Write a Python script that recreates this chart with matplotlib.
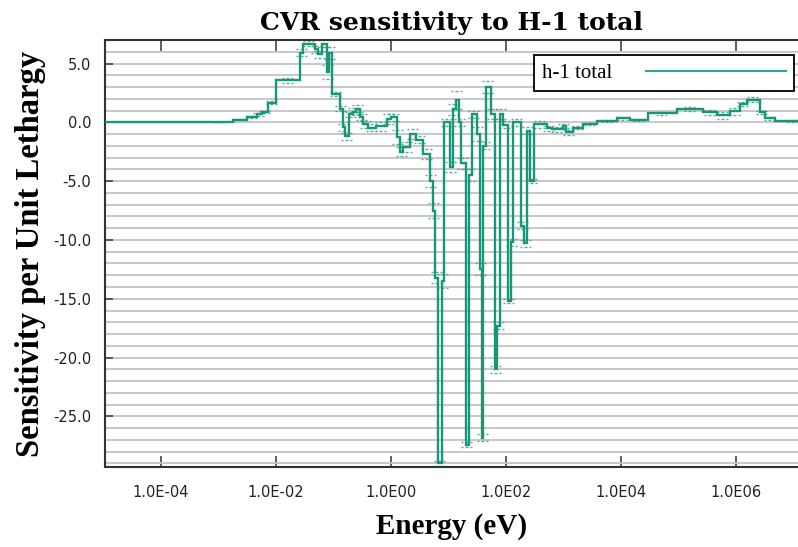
import numpy as np
import matplotlib
matplotlib.use("Agg")
import matplotlib.pyplot as plt
from matplotlib.lines import Line2D
from matplotlib.path import Path
from matplotlib.ticker import FixedLocator, MultipleLocator, FuncFormatter

# group boundaries (eV) and sensitivity per unit lethargy for each group
energy_edges = [
    1.0e-5, 5.44e-4, 1.81e-3, 3.09e-3, 4.61e-3, 5.64e-3, 7.35e-3, 1.00e-2,
    2.61e-2, 2.99e-2, 4.76e-2, 5.45e-2, 6.24e-2, 7.62e-2, 8.36e-2, 9.31e-2,
    0.130, 0.145, 0.158, 0.188, 0.218, 0.246, 0.289, 0.330, 0.398, 0.548,
    0.841, 1.00, 1.26, 1.44, 1.64, 2.14, 2.72, 3.65, 4.76, 5.37, 5.94, 6.56,
    7.71, 8.36, 10.6, 12.0, 13.5, 15.2, 16.5, 20.1, 22.7, 25.6, 31.3, 35.3,
    38.3, 40.6, 44.9, 54.8, 64.4, 71.1, 78.7, 88.7, 108, 122, 132, 182, 210,
    232, 261, 307, 516, 631, 979, 1.10e3, 1.46e3, 2.18e3, 3.83e3, 8.51e3,
    1.44e4, 2.95e4, 9.42e4, 2.67e5, 4.68e5, 7.87e5, 1.17e6, 1.55e6, 2.61e6,
    3.19e6, 4.76e6, 2.0e7,
]
sensitivity = [
    0.0, 0.05, 0.22, 0.45, 0.68, 0.88, 1.67, 3.57, 5.9, 6.7, 6.2, 5.8, 6.7,
    4.3, 5.9, 2.4, 1.16, -0.4, -1.17, 0.68, 0.9, 1.16, 0.45, -0.17, -0.46,
    -0.35, 0.3, 0.45, -1.25, -2.5, -2.1, -1.0, -1.5, -2.7, -5.0, -7.5, -13.2,
    -29.0, -13.5, 0.0, -3.8, 1.1, 1.9, 0.0, -3.5, -27.4, -4.5, 0.7, -1.0,
    -12.5, -26.8, -2.0, 3.0, 0.7, -21.0, -17.3, 0.7, -0.2, -15.2, -10.2, 0.0,
    -8.8, -10.3, -0.7, -5.0, -0.15, -0.5, -0.6, -0.3, -0.85, -0.45, -0.14,
    0.14, 0.33, 0.2, 0.76, 1.13, 0.85, 0.6, 0.96, 1.56, 1.92, 0.85, 0.33, 0.14,
]
uncertainty = [
    0.0, 0.02, 0.05, 0.08, 0.1, 0.1, 0.15, 0.2, 0.3, 0.25, 0.3, 0.3, 0.3,
    0.6, 0.5, 0.2, 0.2, 0.3, 0.3, 0.2, 0.3, 0.3, 0.25, 0.3, 0.3, 0.4, 0.4,
    0.3, 0.6, 0.4, 0.4, 0.4, 0.3, 0.4, 0.5, 0.6, 0.5, 0.2, 0.6, 0.3, 0.4,
    0.5, 0.8, 0.3, 0.5, 0.2, 0.5, 0.3, 0.6, 0.5, 0.3, 0.3, 0.5, 0.4, 0.3,
    0.3, 0.4, 0.3, 0.2, 0.3, 0.3, 0.3, 0.3, 0.3, 0.2, 0.3, 0.2, 0.2, 0.2,
    0.2, 0.1, 0.1, 0.1, 0.1, 0.1, 0.1, 0.15, 0.2, 0.3, 0.3, 0.2, 0.2, 0.15,
    0.1, 0.1,
]
x_ticks = [1e-4, 1e-2, 1e0, 1e2, 1e4, 1e6]

edges = np.array(energy_edges)
vals = np.array(sensitivity)
errs = np.array(uncertainty)

line_color = "#18967a"

fig = plt.figure(figsize=(7.98, 5.47), dpi=100)
ax = fig.add_axes([0.1316, 0.1463, 0.8684, 0.7806])

ax.set_xscale("log")
ax.set_xlim(1.07e-5, 1.2e7)
ax.set_ylim(-29.3, 7.0)

# horizontal grid every 1.0
ax.yaxis.set_major_locator(MultipleLocator(5))
ax.yaxis.set_minor_locator(MultipleLocator(1))
ax.grid(axis="y", which="both", color="#c4c4c4", lw=1.3, zorder=0)
ax.set_axisbelow(True)

ax.stairs(vals, edges, color=line_color, lw=1.7, baseline=None, zorder=3)

# dotted uncertainty marks
dots = Path([(-1, 0), (-0.6, 0), (-0.3, 0), (0.1, 0), (0.4, 0), (0.8, 0)],
            [Path.MOVETO, Path.LINETO, Path.MOVETO, Path.LINETO,
             Path.MOVETO, Path.LINETO])
centers = np.sqrt(edges[:-1] * edges[1:])
mask = errs > 0
for sign in (1, -1):
    ax.plot(centers[mask], vals[mask] + sign * errs[mask], ls="none",
            marker=dots, ms=9, mew=1.0, mec="#3e9c84", alpha=0.85, zorder=2)

ax.xaxis.set_major_locator(FixedLocator(x_ticks))
ax.xaxis.set_minor_locator(FixedLocator([]))
ax.xaxis.set_major_formatter(FuncFormatter(
    lambda v, p: "1.0E%+03d" % round(np.log10(v)) if v < 1 else "1.0E%02d" % round(np.log10(v))))
ax.yaxis.set_major_formatter(FuncFormatter(lambda v, p: "%.1f" % v))

ax.tick_params(axis="x", which="major", direction="in", length=8, width=1.2,
               top=True, labeltop=False, color="#444444", pad=13,
               labelsize=10.5, labelcolor="#222222")
ax.tick_params(axis="y", which="major", direction="in", length=6, width=1.2,
               color="#444444", pad=10, labelsize=10.5, labelcolor="#222222")
ax.tick_params(axis="y", which="minor", length=0)

for side in ("left", "bottom", "top"):
    ax.spines[side].set_color("#333333")
    ax.spines[side].set_linewidth(1.5)
ax.spines["right"].set_visible(False)

ax.set_title("CVR sensitivity to H-1 total", family="DejaVu Serif",
             fontweight="bold", fontsize=18, pad=7)
ax.set_xlabel("Energy (eV)", family="Liberation Serif", fontweight="bold",
              fontsize=21, labelpad=9)
ax.set_ylabel("Sensitivity per Unit Lethargy", family="Liberation Serif",
              fontweight="bold", fontsize=23.5, labelpad=5)

handle = Line2D([], [], color="#30a8a0", lw=1.5)
leg = ax.legend([handle], ["h-1 total"], loc="upper right",
                bbox_to_anchor=(0.994, 0.965), borderaxespad=0,
                prop={"family": "Liberation Serif", "size": 15},
                handlelength=6.7, handletextpad=1.6, markerfirst=False,
                fancybox=False, framealpha=1, borderpad=0.4)
leg.get_frame().set_edgecolor("black")
leg.get_frame().set_linewidth(1.3)

fig.savefig("out.png", dpi=100)
